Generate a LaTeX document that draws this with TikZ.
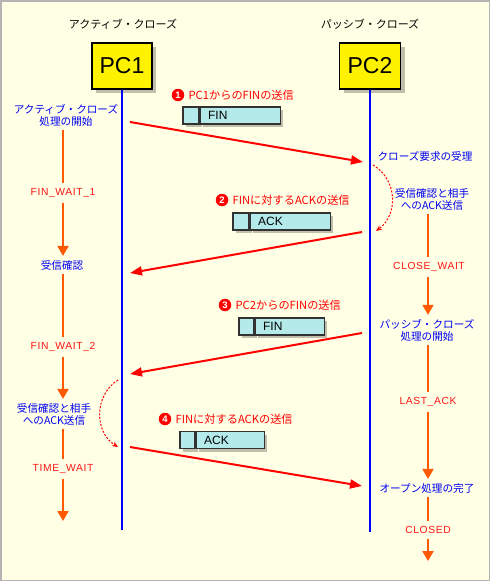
\documentclass[tikz,border=0pt]{standalone}
\usepackage{fontspec}
\setmainfont{Noto Sans CJK JP}
\newfontfamily\latfont{Liberation Sans}
\newfontfamily\statefont[LetterSpace=6]{Liberation Sans}
\usetikzlibrary{arrows.meta,positioning,shadows}

\definecolor{bgyellow}{RGB}{255,255,230}
\definecolor{framegray}{RGB}{180,180,180}
\definecolor{procblue}{RGB}{0,0,240}
\definecolor{lifeblue}{RGB}{0,0,255}
\definecolor{statered}{RGB}{255,20,20}
\definecolor{msgred}{RGB}{255,0,0}
\definecolor{floworange}{RGB}{255,90,0}
\definecolor{pktcyan}{RGB}{180,234,234}
\definecolor{pktborder}{RGB}{50,50,50}

\tikzset{
  title/.style={font=\fontsize{11}{12}\selectfont},
  pcbox/.style={draw=black, line width=1.6pt, fill=yellow, minimum width=60pt, minimum height=46pt,
    inner sep=0pt, font=\latfont\fontsize{23}{24}\selectfont,
    drop shadow={shadow xshift=4pt, shadow yshift=-4pt, fill=black, opacity=0.25}},
  life/.style={draw=lifeblue, line width=2pt},
  proc/.style={text=procblue, align=center, inner xsep=1pt, inner ysep=4pt,
    font=\fontsize{10.6}{12}\selectfont},
  state/.style={text=statered, inner xsep=1pt, inner ysep=5pt,
    font=\statefont\fontsize{10.3}{12}\selectfont},
  flow/.style={draw=floworange, line width=2pt},
  flowarr/.style={flow, -{Triangle[length=10pt,width=11pt]}},
  msg/.style={draw=msgred, line width=2pt, -{Triangle[length=12pt,width=9pt]}},
  ackcurve/.style={draw=msgred, line width=1pt, dash pattern=on 2pt off 1.6pt,
    -{Stealth[length=6pt,width=5pt]}},
  numdot/.style={circle, fill=msgred, text=white, inner sep=0pt, minimum size=12.5pt,
    font=\latfont\bfseries\fontsize{9.5}{9.5}\selectfont},
  pktlabel/.style={text=msgred, inner sep=1pt, font=\fontsize{11.2}{12}\selectfont},
  pkthdr/.style={draw=pktborder, line width=1.1pt, fill=pktcyan, minimum width=16pt,
    minimum height=17pt, inner sep=0pt,
    drop shadow={shadow xshift=3pt, shadow yshift=-3pt, fill=black, opacity=0.25}},
  pktbody/.style={pkthdr, anchor=west, inner xsep=8pt, align=left,
    font=\latfont\fontsize{12}{12}\selectfont},
}

\begin{document}
\begin{tikzpicture}[x=1pt,y=-1pt]
\useasboundingbox (0,0) rectangle (490,581);
\fill[bgyellow] (0,0) rectangle (490,581);
\draw[framegray, line width=1.5pt] (0.75,0.75) rectangle (489.25,580.25);

% titles
\node[title] (tact) at (123,24) {アクティブ・クローズ};
\node[title] (tpas) at (370,24) {パッシブ・クローズ};

% PCs and lifelines
\node[pcbox] (pc1) at (122,66) {PC1};
\node[pcbox, minimum width=61pt] (pc2) at (370,66) {PC2};
\coordinate (pc1end) at (122,530);
\coordinate (pc2end) at (370,532);
\draw[life] (pc1) -- (pc1end);
\draw[life] (pc2) -- (pc2end);

% PC1 side states
\coordinate (lcol) at (63,0);
\node[proc] (actstart) at (66,115) {アクティブ・クローズ\\処理の開始};
\node[state] (fw1) at (63,193) {FIN\_WAIT\_1};
\node[proc] (rcvack) at (62,265) {受信確認};
\node[state] (fw2) at (63,347) {FIN\_WAIT\_2};
\node[proc] (sendack1) at (54,414) {受信確認と相手\\へのACK送信};
\node[state] (tw) at (63,469) {TIME\_WAIT};
\coordinate (lend) at (63,521);

% PC2 side states
\coordinate (rcol) at (428,0);
\node[proc] (closereq) at (425,156) {クローズ要求の受理};
\node[proc] (sendack2) at (432,199) {受信確認と相手\\へのACK送信};
\node[state] (cw) at (429,267) {CLOSE\_WAIT};
\node[proc] (passtart) at (427,330) {パッシブ・クローズ\\処理の開始};
\node[state] (la) at (428,402) {LAST\_ACK};
\node[proc] (opendone) at (427,488) {オープン処理の完了};
\node[state] (cl) at (428,530) {CLOSED};
\coordinate (rend) at (428,561);

% state flow
\foreach \a/\b/\s in {actstart/fw1/flow, fw1/rcvack/flowarr, rcvack/fw2/flow,
    fw2/sendack1/flowarr, sendack1/tw/flow}
  \draw[\s] (\a.south -| lcol) -- (\b.north -| lcol);
\draw[flowarr] (tw.south -| lcol) -- (lend);
\foreach \a/\b/\s in {sendack2/cw/flow, cw/passtart/flowarr, passtart/la/flow,
    la/opendone/flowarr, opendone/cl/flow}
  \draw[\s] (\a.south -| rcol) -- (\b.north -| rcol);
\draw[flowarr] (cl.south -| rcol) -- (rend);

% messages
\coordinate (m1a) at (130,122);
\coordinate (m1b) at (363,162);
\coordinate (m2a) at (362,232);
\coordinate (m2b) at (130,273);
\coordinate (m3a) at (362,333);
\coordinate (m3b) at (130,374);
\coordinate (m4a) at (130,447);
\coordinate (m4b) at (362,486);
\draw[msg] (m1a) -- (m1b);
\draw[msg] (m2a) -- (m2b);
\draw[msg] (m3a) -- (m3b);
\draw[msg] (m4a) -- (m4b);

% ACK turn-arounds
\coordinate (c2a) at (373,165);
\coordinate (c2b) at (376,231);
\draw[ackcurve] (c2a) .. controls (398,180) and (398,215) .. (c2b);
\coordinate (c1a) at (118,380);
\coordinate (c1b) at (118,447);
\draw[ackcurve] (c1a) .. controls (94,395) and (94,432) .. (c1b);

% packets
\node[numdot] (n1) at (178,95) {1};
\node[pktlabel, right=3pt of n1] (lbl1) {PC1からのFINの送信};
\node[pkthdr] (hdr1) at (191,115.5) {};
\node[pktbody, text width=64pt] (pkt1) at (hdr1.east) {FIN};

\node[numdot] (n2) at (222,200) {2};
\node[pktlabel, right=3pt of n2] (lbl2) {FINに対するACKの送信};
\node[pkthdr] (hdr2) at (241,221.5) {};
\node[pktbody, text width=64pt] (pkt2) at (hdr2.east) {ACK};

\node[numdot] (n3) at (225,305) {3};
\node[pktlabel, right=3pt of n3] (lbl3) {PC2からのFINの送信};
\node[pkthdr, minimum width=15pt] (hdr3) at (246.5,326.5) {};
\node[pktbody, text width=53pt] (pkt3) at (hdr3.east) {FIN};

\node[numdot] (n4) at (165,419) {4};
\node[pktlabel, right=3pt of n4] (lbl4) {FINに対するACKの送信};
\node[pkthdr, minimum width=15pt] (hdr4) at (187.5,440) {};
\node[pktbody, text width=52pt] (pkt4) at (hdr4.east) {ACK};
\end{tikzpicture}
\end{document}
